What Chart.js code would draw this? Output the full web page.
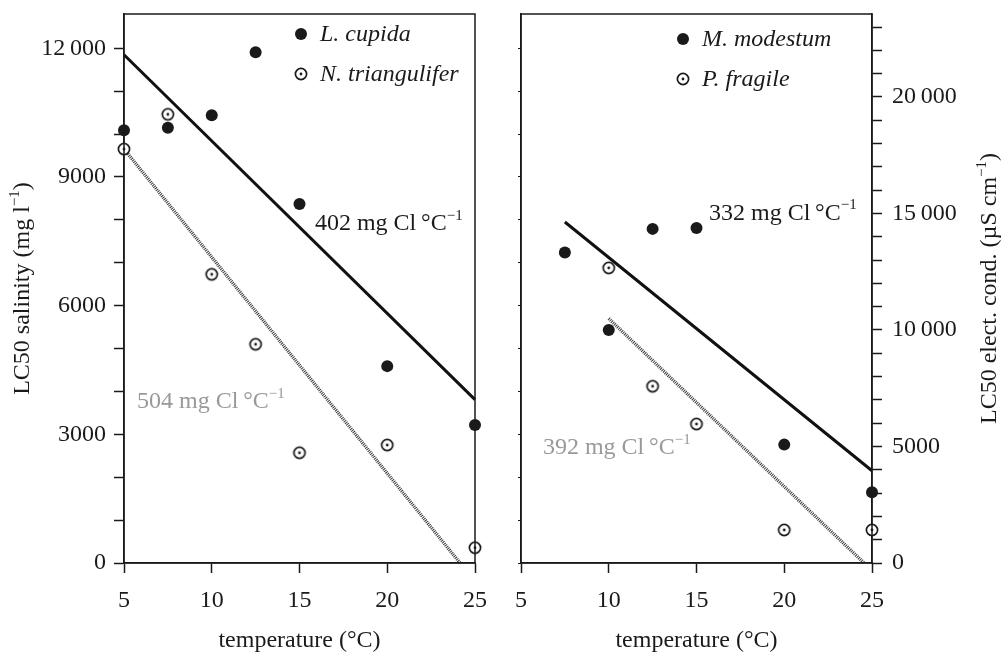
<!DOCTYPE html>
<html>
<head>
<meta charset="utf-8">
<script src="https://cdn.jsdelivr.net/npm/chart.js@4.4.0/dist/chart.umd.min.js"></script>
<style>
  body { margin: 0; background: #fff; }
  .panel { position: absolute; top: 0; height: 653px; }
  #p1 { left: 0; width: 500px; }
  #p2 { left: 500px; width: 504px; }
</style>
</head>
<body>
<div class="panel" id="p1"><canvas id="left"></canvas></div>
<div class="panel" id="p2"><canvas id="right"></canvas></div>
<script>
// left panel data (salinity, mg/l)
var cupidaTemps = [5, 7.5, 10, 12.5, 15, 20, 25];
var cupida = [10090, 10150, 10440, 11910, 8370, 4590, 3215];
var triangTemps = [5, 7.5, 10, 12.5, 15, 20, 25];
var triangulifer = [9650, 10460, 6730, 5100, 2570, 2750, 357];
var cupidaFitX = [5, 25];
var cupidaFitY = [11850, 3810];
var triangFitX = [5, 24.15];
var triangFitY = [9650, 0];

// right panel data
var modestumTemps = [7.5, 10, 12.5, 15, 20, 25];
var modestum = [7240, 5430, 7790, 7810, 2760, 1650];
var fragileTemps = [10, 12.5, 15, 20, 25];
var fragile = [6880, 4120, 3240, 770, 770];
var modestumFitX = [7.5, 25];
var modestumFitY = [7950, 2150];
var fragileFitX = [10, 24.55];
var fragileFitY = [5700, 0];

// axes
var tempTicks = [5, 10, 15, 20, 25];
var salTicks = [0, 1000, 2000, 3000, 4000, 5000, 6000, 7000, 8000, 9000, 10000, 11000, 12000];
var salLabels = [0, 3000, 6000, 9000, 12000];
var condTicks = [0, 1000, 2000, 3000, 4000, 5000, 6000, 7000, 8000, 9000, 10000, 11000,
  12000, 13000, 14000, 15000, 16000, 17000, 18000, 19000, 20000, 21000, 22000, 23000];
var condLabels = [0, 5000, 10000, 15000, 20000];
var salMax = 12800;
var condMax = 23560;

var FONT = '"Liberation Serif", "Times New Roman", serif';
var INK = '#1a1a1a';
var GREY = '#999';

function pts(xs, ys) {
  return xs.map(function (x, i) { return { x: x, y: ys[i] }; });
}

function fmt(v) {
  if (v >= 10000) {
    var s = String(v);
    return s.slice(0, s.length - 3) + '\u2009' + s.slice(-3);
  }
  return String(v);
}

function useTicks(list) {
  return function (s) {
    s.ticks = list.map(function (v) { return { value: v }; });
  };
}

// open circle with a dot
var openDot = document.createElement('canvas');
openDot.width = 16;
openDot.height = 16;
(function () {
  var c = openDot.getContext('2d');
  c.fillStyle = '#fff';
  c.strokeStyle = INK;
  c.lineWidth = 1.7;
  c.beginPath();
  c.arc(8, 8, 5.6, 0, Math.PI * 2);
  c.fill();
  c.stroke();
  c.fillStyle = INK;
  c.beginPath();
  c.arc(8, 8, 1.4, 0, Math.PI * 2);
  c.fill();
})();

function drawRich(ctx, parts, x, y, align, color, size) {
  var sup = Math.round(size * 0.62);
  var total = 0;
  parts.forEach(function (p) {
    ctx.font = (p.sup ? sup : size) + 'px ' + FONT;
    p.w = ctx.measureText(p.t).width;
    total += p.w;
  });
  var cx = align === 'center' ? x - total / 2 : x;
  ctx.fillStyle = color;
  ctx.textAlign = 'left';
  ctx.textBaseline = 'middle';
  parts.forEach(function (p) {
    ctx.font = (p.sup ? sup : size) + 'px ' + FONT;
    ctx.fillText(p.t, cx, p.sup ? y - size * 0.33 : y);
    cx += p.w;
  });
}

function rate(txt) {
  return [{ t: txt + ' mg Cl\u2009°C' }, { t: '\u22121', sup: true }];
}

function legendItem(ctx, x, y, filled, label) {
  if (filled) {
    ctx.fillStyle = INK;
    ctx.beginPath();
    ctx.arc(x, y, 6, 0, Math.PI * 2);
    ctx.fill();
  } else {
    ctx.drawImage(openDot, x - 8, y - 8);
  }
  ctx.font = 'italic 24px ' + FONT;
  ctx.fillStyle = INK;
  ctx.textAlign = 'left';
  ctx.textBaseline = 'middle';
  ctx.fillText(label, x + 19, y + 1);
}

var framePlugin = {
  id: 'frame',
  afterDatasetsDraw: function (chart, args, opts) {
    var ctx = chart.ctx, a = chart.chartArea;
    var sx = chart.scales.x, sy = chart.scales.y;
    ctx.save();
    ctx.strokeStyle = INK;
    ctx.lineWidth = 1.5;
    ctx.strokeRect(a.left, a.top, a.right - a.left, a.bottom - a.top);
    opts.notes.forEach(function (n) {
      drawRich(ctx, rate(n.text), sx.getPixelForValue(n.x), sy.getPixelForValue(n.y), 'left', n.color, 24);
    });
    legendItem(ctx, a.left + opts.legendX, a.top + opts.legendY, true, opts.names[0]);
    legendItem(ctx, a.left + opts.legendX, a.top + opts.legendY + 40, false, opts.names[1]);
    ctx.translate(opts.titleX, (a.top + a.bottom) / 2);
    ctx.rotate(-Math.PI / 2);
    drawRich(ctx, opts.title, 0, 0, 'center', INK, 24);
    ctx.restore();
  }
};

function noPad(s) {
  s.paddingTop = 0;
  s.paddingBottom = 0;
}

function xScale() {
  return {
    type: 'linear',
    min: 5,
    max: 25,
    afterBuildTicks: useTicks(tempTicks),
    ticks: { color: INK, font: { family: FONT, size: 24 }, padding: 13, maxRotation: 0 },
    grid: { drawOnChartArea: false, tickLength: 10, tickColor: INK, tickWidth: 1.5 },
    border: { color: INK, width: 1.5 },
    title: {
      display: true,
      text: 'temperature (°C)',
      color: INK,
      font: { family: FONT, size: 24, lineHeight: 1 },
      padding: { top: 0, bottom: 0 }
    },
    afterFit: function (s) { s.height = 90; }
  };
}

function pointSet(xs, ys, filled) {
  return {
    data: pts(xs, ys),
    showLine: false,
    clip: false,
    order: 0,
    pointStyle: filled ? 'circle' : openDot,
    pointRadius: 6,
    pointBackgroundColor: INK,
    pointBorderWidth: 0
  };
}

function lineSet(xs, ys, solid) {
  return {
    data: pts(xs, ys),
    showLine: true,
    clip: false,
    order: 1,
    pointRadius: 0,
    borderColor: solid ? '#111' : '#3a3a3a',
    borderWidth: solid ? 3 : 3.4,
    borderDash: solid ? [] : [1, 1]
  };
}

var common = {
  animation: false,
  responsive: true,
  maintainAspectRatio: false,
  events: []
};

new Chart(document.getElementById('left'), {
  type: 'scatter',
  data: {
    datasets: [
      lineSet(cupidaFitX, cupidaFitY, true),
      lineSet(triangFitX, triangFitY, false),
      pointSet(cupidaTemps, cupida, true),
      pointSet(triangTemps, triangulifer, false)
    ]
  },
  options: Object.assign({}, common, {
    layout: { padding: { top: 14, right: 25, left: 0, bottom: 0 } },
    scales: {
      x: xScale(),
      y: {
        type: 'linear',
        min: 0,
        max: salMax,
        afterBuildTicks: useTicks(salTicks),
        ticks: {
          color: INK,
          font: { family: FONT, size: 24 },
          padding: 8,
          autoSkip: false,
          callback: function (v) { return salLabels.indexOf(v) >= 0 ? fmt(v) : ''; }
        },
        grid: { drawOnChartArea: false, tickLength: 10, tickColor: INK, tickWidth: 1.5 },
        border: { color: INK, width: 1.5 },
        afterFit: function (s) { s.width = 124; noPad(s); }
      }
    },
    plugins: {
      legend: { display: false },
      tooltip: { enabled: false },
      frame: {
        notes: [
          { text: '402', x: 15.88, y: 7900, color: INK },
          { text: '504', x: 5.74, y: 3750, color: GREY }
        ],
        names: ['L. cupida', 'N. triangulifer'],
        legendX: 177,
        legendY: 20,
        title: [{ t: 'LC50 salinity (mg l' }, { t: '\u22121', sup: true }, { t: ')' }],
        titleX: 23
      }
    }
  }),
  plugins: [framePlugin]
});

new Chart(document.getElementById('right'), {
  type: 'scatter',
  data: {
    datasets: [
      lineSet(modestumFitX, modestumFitY, true),
      lineSet(fragileFitX, fragileFitY, false),
      pointSet(modestumTemps, modestum, true),
      pointSet(fragileTemps, fragile, false)
    ]
  },
  options: Object.assign({}, common, {
    layout: { padding: { top: 14, right: 0, left: 0, bottom: 0 } },
    scales: {
      x: xScale(),
      y: {
        type: 'linear',
        position: 'left',
        min: 0,
        max: salMax,
        afterBuildTicks: useTicks(salTicks),
        ticks: { autoSkip: false, callback: function () { return ''; } },
        grid: { drawOnChartArea: false, tickLength: 3, tickColor: INK, tickWidth: 1.2 },
        border: { color: INK, width: 1.5 },
        afterFit: function (s) { s.width = 21; noPad(s); }
      },
      y2: {
        type: 'linear',
        position: 'right',
        min: 0,
        max: condMax,
        afterBuildTicks: useTicks(condTicks),
        ticks: {
          color: INK,
          font: { family: FONT, size: 24 },
          padding: 10,
          autoSkip: false,
          callback: function (v) { return condLabels.indexOf(v) >= 0 ? fmt(v) : ''; }
        },
        grid: { drawOnChartArea: false, tickLength: 10, tickColor: INK, tickWidth: 1.5 },
        border: { color: INK, width: 1.5 },
        afterFit: function (s) { s.width = 132; noPad(s); }
      }
    },
    plugins: {
      legend: { display: false },
      tooltip: { enabled: false },
      frame: {
        notes: [
          { text: '332', x: 15.71, y: 8150, color: INK },
          { text: '392', x: 6.25, y: 2680, color: GREY }
        ],
        names: ['M. modestum', 'P. fragile'],
        legendX: 162,
        legendY: 25,
        title: [{ t: 'LC50 elect. cond. (µS cm' }, { t: '\u22121', sup: true }, { t: ')' }],
        titleX: 490
      }
    }
  }),
  plugins: [framePlugin]
});
</script>
</body>
</html>
